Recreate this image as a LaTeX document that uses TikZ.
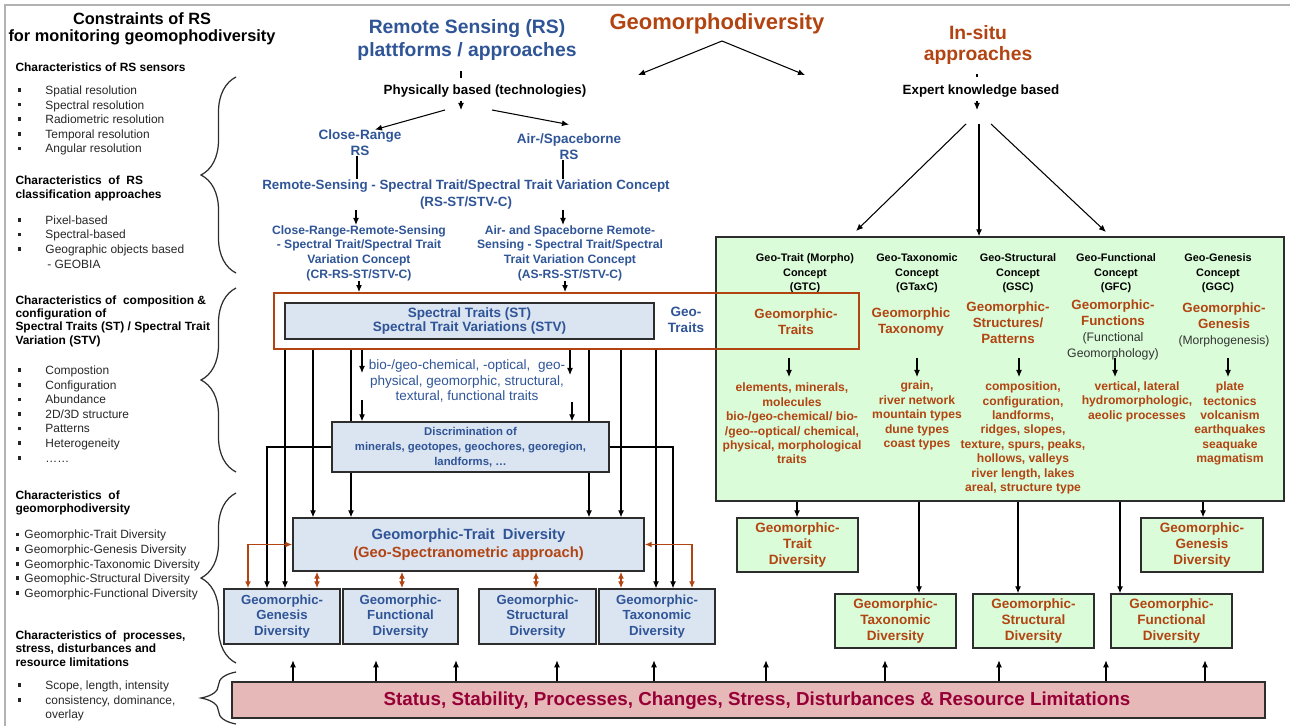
\documentclass[tikz,border=0pt]{standalone}
\usepackage{fontspec}
\setmainfont{Liberation Sans}
\usetikzlibrary{arrows.meta,calc,decorations.pathreplacing}

\definecolor{rsblue}{RGB}{47,85,151}
\definecolor{geobrown}{RGB}{178,68,18}
\definecolor{boxblue}{RGB}{219,228,241}
\definecolor{boxgreen}{RGB}{218,252,216}
\definecolor{barred}{RGB}{230,184,184}
\definecolor{bartext}{RGB}{150,0,55}
\definecolor{edgegray}{RGB}{45,45,45}

\newcommand{\sqb}{\makebox[15.9pt][l]{\rule[0.4ex]{2.1pt}{2.1pt}}}
\newcommand{\sqs}{\makebox[5.1pt][l]{\rule[0.4ex]{2.1pt}{2.1pt}}}

\tikzset{
  lbl/.style={inner sep=0pt, align=center},
  bx/.style 2 args={minimum width=#1*0.02cm, minimum height=#2*0.02cm},
  hd/.style={lbl, anchor=west, align=left, font=\fontsize{6.8}{7.6}\selectfont\bfseries},
  lst/.style={lbl, anchor=west, align=left, text=black!85, font=\fontsize{6.8}{8.3}\selectfont},
  ttl/.style={lbl, font=\fontsize{11}{13}\selectfont\bfseries},
  blt/.style={lbl, text=rsblue, font=\fontsize{7.7}{9}\selectfont\bfseries},
  ghd/.style={lbl, font=\fontsize{6.2}{8.2}\selectfont\bfseries},
  gtl/.style={lbl, text=geobrown, font=\fontsize{7.6}{9}\selectfont\bfseries},
  glst/.style={lbl, text=geobrown, font=\fontsize{6.9}{8.2}\selectfont\bfseries},
  bluebox/.style={lbl, draw=edgegray, fill=boxblue, line width=0.8pt, text=rsblue, font=\fontsize{7.5}{8.8}\selectfont\bfseries},
  greenbox/.style={lbl, draw=edgegray, fill=boxgreen, line width=0.8pt, text=geobrown, font=\fontsize{7.7}{9.2}\selectfont\bfseries},
  brc/.style={decorate, decoration={brace, amplitude=0.7cm}, draw=edgegray, line width=0.7pt},
  dbl/.style={<->, draw=geobrown, line width=0.8pt}
}

\begin{document}
\begin{tikzpicture}[x=0.02cm, y=-0.02cm, >={Latex[length=4pt,width=3.4pt]}, line width=0.6pt]
\useasboundingbox (0,0) rectangle (1290,726);
\draw[gray!60, line width=1pt] (5,726) -- (5,5) -- (1290,5);

%% left column: constraints
\node[lbl, font=\fontsize{9.3}{9.7}\selectfont\bfseries] (cons) at (142,28.5) {Constraints of RS\\for monitoring geomophodiversity};
\node[hd] (hsens) at (15,67) {Characteristics of RS sensors};
\node[lst] (lsens) at (17,120.5) {\sqb Spatial resolution\\\sqb Spectral resolution\\\sqb Radiometric resolution\\\sqb Temporal resolution\\\sqb Angular resolution};
\node[hd] (hclass) at (15,188.5) {Characteristics\ \ of\ \ RS\\classification approaches};
\node[lst] (lclass) at (17,242) {\sqb Pixel-based\\\sqb Spectral-based\\\sqb Geographic objects based\\\hspace*{17pt}- GEOBIA};
\node[hd] (hcomp) at (15,321) {Characteristics of\ \ composition \&\\configuration of\\Spectral Traits (ST) / Spectral Trait\\Variation (STV)};
\node[lst] (lcomp) at (17,414) {\sqb Compostion\\\sqb Configuration\\\sqb Abundance\\\sqb 2D/3D structure\\\sqb Patterns\\\sqb Heterogeneity\\\sqb \dots\dots};
\node[hd] (hdiv) at (15,503) {Characteristics\ \ of\\geomorphodiversity};
\node[lst] (ldiv) at (15,565) {\sqs Geomorphic-Trait Diversity\\\sqs Geomorphic-Genesis Diversity\\\sqs Geomorphic-Taxonomic Diversity\\\sqs Geomophic-Structural Diversity\\\sqs Geomorphic-Functional Diversity};
\node[hd] (hproc) at (15,648.5) {Characteristics of\ \ processes,\\stress, disturbances and\\resource limitations};
\node[lst] (lproc) at (17,701) {\sqb Scope, length, intensity\\\sqb consistency, dominance,\\\hspace*{15.9pt}overlay};

\draw[brc] (236,273) -- (236,77);
\draw[brc] (236,472) -- (236,288);
\draw[brc] (236,663) -- (236,493);
\draw[brc] (236,724) -- (236,672);

%% titles
\node[ttl, text=rsblue] (rs) at (467,40) {Remote Sensing (RS)\\plattforms / approaches};
\node[ttl, text=geobrown, font=\fontsize{12.5}{14}\selectfont\bfseries] (geo) at (717,24) {Geomorphodiversity};
\node[ttl, text=geobrown, font=\fontsize{11}{11.5}\selectfont\bfseries] (insitu) at (978,45) {In-situ\\approaches};
\coordinate (apex) at (722,41);
\coordinate (geoL) at (638,75);
\coordinate (geoR) at (805,75);
\draw[->] (apex) -- (geoL);
\draw[->] (apex) -- (geoR);

%% RS branch
\node[lbl, font=\fontsize{7.6}{8.5}\selectfont\bfseries] (phys) at (485,91) {Physically based (technologies)};
\draw (461,71) -- (461,78);
\draw[->] (461,101) -- (461,110);
\node[blt] (cr) at (360,143) {Close-Range\\RS};
\node[blt] (as) at (569,147) {Air-/Spaceborne\\RS};
\draw[->] (445,110) -- ($(cr.north)+(15,0)$);
\draw[->] (492,110) -- ($(as.north)+(0,-9)$);
\node[blt, font=\fontsize{7.6}{9.6}\selectfont\bfseries] (rsst) at (466,194.5) {Remote-Sensing - Spectral Trait/Spectral Trait Variation Concept\\(RS-ST/STV-C)};
\draw (cr.south -| 357,0) -- (rsst.north -| 357,0);
\draw (as.south -| 563,0) -- (rsst.north -| 563,0);
\node[blt, font=\fontsize{6.9}{8.3}\selectfont\bfseries] (crst) at (359,253) {Close-Range-Remote-Sensing\\- Spectral Trait/Spectral Trait\\Variation Concept\\(CR-RS-ST/STV-C)};
\node[blt, font=\fontsize{6.9}{8.3}\selectfont\bfseries] (asst) at (570,253) {Air- and Spaceborne Remote-\\Sensing - Spectral Trait/Spectral\\Trait Variation Concept\\(AS-RS-ST/STV-C)};
\draw[->] (rsst.south -| 356,0) -- (crst.north -| 356,0);
\draw[->] (rsst.south -| 563,0) -- (asst.north -| 563,0);

%% in-situ branch
\node[lbl, font=\fontsize{7.6}{8.5}\selectfont\bfseries] (expert) at (981,91) {Expert knowledge based};
\draw (977,74) -- (977,77);
\draw[->] (977,101) -- (977,110);

\node[greenbox, bx={568}{264}] (green) at (1000,369) {};
\draw[->] (966,124) -- (856,231);
\draw[->] (979,124) -- (green.north -| 979,0);
\draw[->] (991,124) -- (1106,232);

\node[ghd] (h1) at (805,273.5) {Geo-Trait (Morpho)\\Concept\\(GTC)};
\node[ghd] (h2) at (917,273.5) {Geo-Taxonomic\\Concept\\(GTaxC)};
\node[ghd] (h3) at (1018,273.5) {Geo-Structural\\Concept\\(GSC)};
\node[ghd] (h4) at (1116,273.5) {Geo-Functional\\Concept\\(GFC)};
\node[ghd] (h5) at (1218,273.5) {Geo-Genesis\\Concept\\(GGC)};
\node[gtl] (t1) at (796,322) {Geomorphic-\\Traits};
\node[gtl] (t2) at (911,322) {Geomorphic\\Taxonomy};
\node[gtl] (t3) at (1008,323) {Geomorphic-\\Structures/\\Patterns};
\node[gtl] (t4) at (1113,330) {Geomorphic-\\Functions\\{\mdseries\fontsize{7}{7.8}\selectfont\color{black!80}(Functional}\\{\mdseries\fontsize{7}{7.8}\selectfont\color{black!80}Geomorphology)}};
\node[gtl] (t5) at (1224,325) {Geomorphic-\\Genesis\\{\mdseries\fontsize{6.9}{8}\selectfont\color{black!80}(Morphogenesis)}};
\foreach \x in {789,917,1019,1115,1228}
  \draw[->] (\x,358) -- (\x,377);
\node[glst] (l1) at (792,423.5) {elements, minerals,\\molecules\\bio-/geo-chemical/ bio-\\/geo-{}-optical/ chemical,\\physical, morphological\\traits};
\node[glst] (l2) at (917,415.5) {grain,\\river network\\mountain types\\dune types\\coast types};
\node[glst] (l3) at (1023,438) {composition,\\configuration,\\landforms,\\ridges, slopes,\\texture, spurs, peaks,\\hollows, valleys\\river length, lakes\\areal, structure type};
\node[glst] (l4) at (1137,401.5) {vertical, lateral\\hydromorphologic,\\aeolic processes};
\node[glst] (l5) at (1230,423.5) {plate\\tectonics\\volcanism\\earthquakes\\seaquake\\magmatism};

\node[greenbox, bx={121}{54}] (gtrait) at (797.5,545) {Geomorphic-\\Trait\\Diversity};
\node[greenbox, bx={122}{54}] (ggen) at (1202,545) {Geomorphic-\\Genesis\\Diversity};
\node[greenbox, bx={121}{54}] (gtax) at (895.5,621) {Geomorphic-\\Taxonomic\\Diversity};
\node[greenbox, bx={121}{54}] (gstr) at (1033.5,621) {Geomorphic-\\Structural\\Diversity};
\node[greenbox, bx={121}{54}] (gfun) at (1171.5,621) {Geomorphic-\\Functional\\Diversity};
\foreach \x/\b in {797/gtrait, 919/gtax, 1018/gstr, 1120/gfun, 1203/ggen}
  \draw[->] (green.south -| \x,0) -- (\b.north -| \x,0);

%% spectral traits
\node[draw=geobrown, line width=1.1pt, inner sep=0pt, bx={585}{56}] (frame) at (566.5,321) {};
\node[bluebox, font=\fontsize{7.7}{8.5}\selectfont\bfseries, bx={369}{36}] (st) at (469.5,321) {Spectral Traits (ST)\\Spectral Trait Variations (STV)};
\node[blt] (gtraits) at (686,320) {Geo-\\Traits};
\draw[->] (crst.south -| 359,0) -- (frame.north -| 359,0);
\draw[->] (asst.south -| 565,0) -- (frame.north -| 565,0);

\node[lbl, text=rsblue, font=\fontsize{7.7}{9}\selectfont] (bio) at (467,381) {bio-/geo-chemical, -optical,\ \ geo-\\physical, geomorphic, structural,\\textural, functional traits};
\node[bluebox, font=\fontsize{6.45}{8.5}\selectfont\bfseries, bx={277}{50}] (disc) at (470.5,447) {Discrimination of\\minerals, geotopes, geochores, georegion,\\landforms, \dots};
\node[bluebox, font=\fontsize{8.4}{10.2}\selectfont\bfseries, bx={351}{53}] (gtd) at (468.5,544.5) {Geomorphic-Trait\ \ Diversity\\\textcolor{geobrown}{(Geo-Spectranometric approach)}};
\node[bluebox, bx={116}{55}] (genb) at (282,616.5) {Geomorphic-\\Genesis\\Diversity};
\node[bluebox, bx={115}{55}] (funcb) at (400.5,616.5) {Geomorphic-\\Functional\\Diversity};
\node[bluebox, bx={117}{55}] (strb) at (537.5,616.5) {Geomorphic-\\Structural\\Diversity};
\node[bluebox, bx={116}{55}] (taxb) at (657,616.5) {Geomorphic-\\Taxonomic\\Diversity};

% connectors below the spectral traits
\draw[->] (frame.south -| 285,0) -- (genb.north -| 285,0);
\draw[->] (frame.south -| 313,0) -- (gtd.north -| 313,0);
\draw (frame.south -| 351,0) -- (disc.north -| 351,0);
\draw[->] (frame.south -| 362,0) -- (362,373);
\draw[->] (362,400) -- (disc.north -| 362,0);
\draw[->] (frame.south -| 570,0) -- (570,375);
\draw[->] (572,402) -- (disc.north -| 572,0);
\draw (frame.south -| 589,0) -- (disc.north -| 589,0);
\draw[->] (frame.south -| 621,0) -- (gtd.north -| 621,0);
\draw[->] (frame.south -| 656,0) -- (taxb.north -| 656,0);
\draw[->] (disc.west) -| (genb.north -| 267,0);
\draw[->] (disc.east) -| (taxb.north -| 673,0);
\draw[->] (disc.south -| 351,0) -- (gtd.north -| 351,0);
\draw[->] (disc.south -| 589,0) -- (gtd.north -| 589,0);
\draw[dbl] (gtd.west) -| (genb.north -| 248,0);
\draw[dbl] (gtd.east) -| (taxb.north -| 692,0);
\foreach \x/\b in {317/genb, 402/funcb, 536/strb, 621/taxb}
  \draw[dbl] (gtd.south -| \x,0) -- (\b.north -| \x,0);

%% status bar
\node[lbl, draw=edgegray, fill=barred, line width=0.8pt, bx={1033}{36}] (status) at (748.5,700) {};
\node[lbl, text=bartext, font=\fontsize{10.7}{12}\selectfont\bfseries] (statustxt) at (757,701) {Status, Stability, Processes, Changes, Stress, Disturbances \& Resource Limitations};
\foreach \x in {293,376,456,557,654,766,885,999,1106,1205}
  \draw[->] (status.north -| \x,0) -- ++(0,-21);
\end{tikzpicture}
\end{document}
